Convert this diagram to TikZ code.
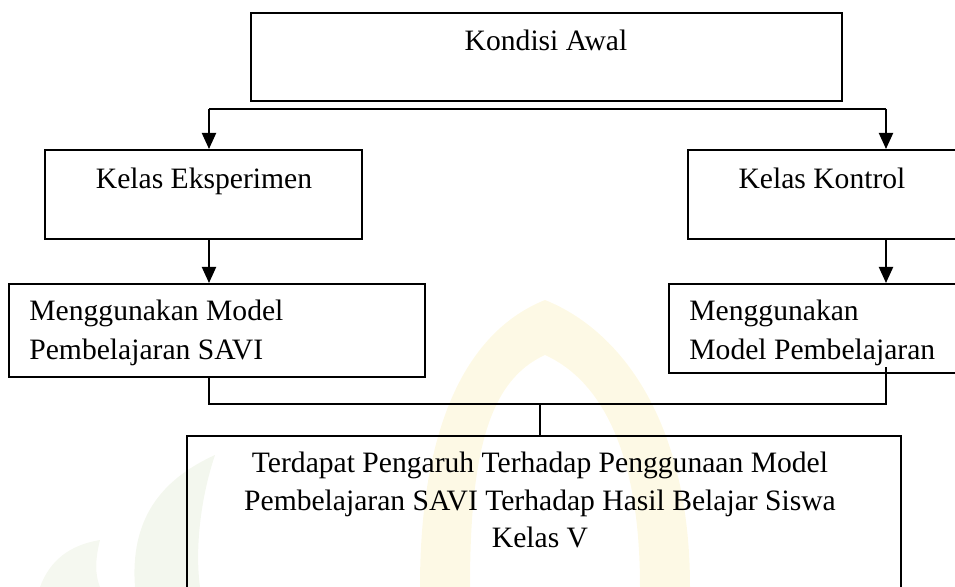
\documentclass[tikz,border=0pt]{standalone}
\usepackage{fontspec}
\setmainfont{Liberation Serif}
\usetikzlibrary{arrows.meta}
\definecolor{wmyellow}{RGB}{250,236,170}
\definecolor{wmgreen}{RGB}{222,232,205}
\tikzset{
  box/.style={draw=black,line width=1pt,rectangle,inner sep=0pt,anchor=north west},
  txt/.style={inner sep=0pt,font=\fontsize{14.8pt}{19.5pt}\selectfont},
  line/.style={draw=black,line width=1pt},
  arr/.style={line,-{Triangle[length=8pt,width=7pt]}}
}
\begin{document}
\begin{tikzpicture}[x=0.5pt,y=-0.5pt]
\useasboundingbox (0,0) rectangle (955,587);
% faint watermark
\fill[wmyellow,opacity=0.3] (420,587) .. controls (420,420) and (470,330) .. (545,300)
   .. controls (620,330) and (690,420) .. (690,587) -- (640,587)
   .. controls (640,450) and (600,380) .. (545,355)
   .. controls (490,380) and (470,450) .. (470,587) -- cycle;
\fill[wmgreen,opacity=0.35] (135,587) .. controls (130,520) and (160,480) .. (215,455)
   .. controls (200,500) and (195,550) .. (200,587) -- cycle;
\fill[wmgreen,opacity=0.3] (40,587) .. controls (50,560) and (70,545) .. (100,540)
   .. controls (95,560) and (95,575) .. (100,587) -- cycle;
% boxes
\node[box,minimum width=591pt*0.5,minimum height=88pt*0.5] (kondisi) at (250,12) {};
\node[box,minimum width=317pt*0.5,minimum height=89pt*0.5] (eks) at (44,149) {};
\node[box,minimum width=280pt*0.5,minimum height=89pt*0.5] (kon) at (687,149) {};
\node[box,minimum width=416pt*0.5,minimum height=93pt*0.5] (menga) at (8,283) {};
\node[box,minimum width=300pt*0.5,minimum height=89pt*0.5] (mengb) at (668,283) {};
\node[box,minimum width=714pt*0.5,minimum height=170pt*0.5] (hasil) at (186,435) {};
% texts
\node[txt,anchor=base] (tkondisi) at (546,51) {Kondisi Awal};
\node[txt,anchor=base] (teks) at (204,189) {Kelas Eksperimen};
\node[txt,anchor=base] (tkon) at (822,189) {Kelas Kontrol};
\node[txt,anchor=base west,align=left] (tmenga) at (29,360) {Menggunakan Model\\Pembelajaran SAVI};
\node[txt,anchor=base west,align=left] (tmengb) at (689,360) {Menggunakan\\Model Pembelajaran};
\node[txt,anchor=base,align=center,font=\fontsize{14.8pt}{18.75pt}\selectfont] (thasil) at (540,548) {Terdapat Pengaruh Terhadap Penggunaan Model\\Pembelajaran SAVI Terhadap Hasil Belajar Siswa\\Kelas V};
% connector coordinates
\coordinate (tl) at (209,109);
\coordinate (tr) at (886,109);
\coordinate (bl) at (209,404);
\coordinate (br) at (886,404);
\coordinate (bm) at (540,404);
\coordinate (mbtop) at (886,367);
% connectors
\draw[line,line width=1.4pt] (tl) -- (tr);
\draw[arr] (tl) -- (tl |- eks.north);
\draw[arr] (tr) -- (tr |- kon.north);
\draw[arr] (tl |- eks.south) -- (tl |- menga.north);
\draw[arr] (tr |- kon.south) -- (tr |- mengb.north);
\draw[line] (bl |- menga.south) -- (bl) -- (br) -- (mbtop);
\draw[line] (bm) -- (bm |- hasil.north);
\end{tikzpicture}
\end{document}
